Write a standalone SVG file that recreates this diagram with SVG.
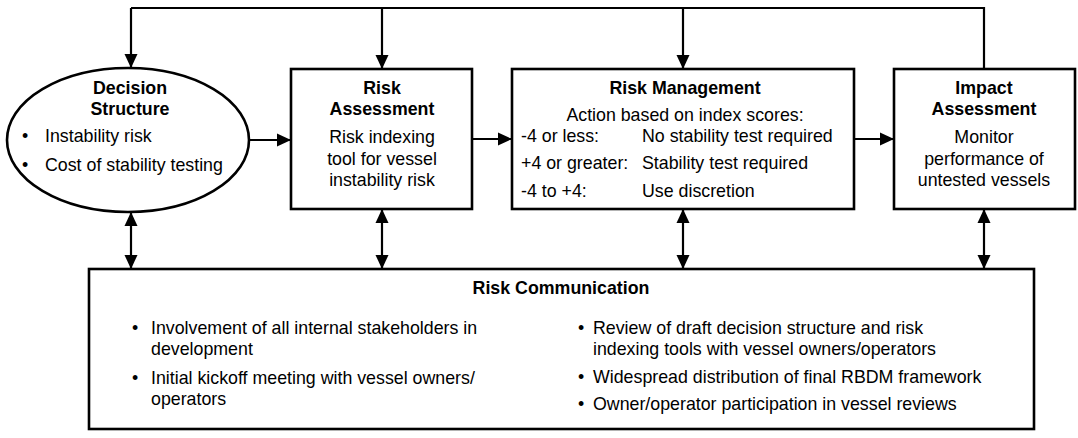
<svg xmlns="http://www.w3.org/2000/svg" width="1078" height="438" viewBox="0 0 1078 438">
<style>
text{font-family:"Liberation Sans",Arial,sans-serif;font-size:17.8px;fill:#000}
.b{font-weight:bold}
.c{text-anchor:middle}
.box{fill:#fff;stroke:#000;stroke-width:2.6}
.ln{fill:none;stroke:#000;stroke-width:2.2}
</style>
<defs>
<marker id="ah" viewBox="0 0 14 14" refX="14" refY="7" markerWidth="14" markerHeight="14" orient="auto-start-reverse" markerUnits="userSpaceOnUse"><path d="M0,0.5 L14,7 L0,13.5 z" fill="#000"/></marker>
</defs>
<rect width="1078" height="438" fill="#fff"/>
<g id="connectors">
<path class="ln" d="M131,8 H984 V69"/>
<path class="ln" d="M131,8 V68" marker-end="url(#ah)"/>
<path class="ln" d="M382,8 V69" marker-end="url(#ah)"/>
<path class="ln" d="M683,8 V69" marker-end="url(#ah)"/>
<path class="ln" d="M249,140 H291" marker-end="url(#ah)"/>
<path class="ln" d="M472,139 H512" marker-end="url(#ah)"/>
<path class="ln" d="M854,139 H894" marker-end="url(#ah)"/>
<path class="ln" d="M131,212 V269" marker-start="url(#ah)" marker-end="url(#ah)"/>
<path class="ln" d="M382,209 V269" marker-start="url(#ah)" marker-end="url(#ah)"/>
<path class="ln" d="M683,209 V269" marker-start="url(#ah)" marker-end="url(#ah)"/>
<path class="ln" d="M984,209 V269" marker-start="url(#ah)" marker-end="url(#ah)"/>
</g>
<g id="decision-structure">
<ellipse class="box" cx="128" cy="140" rx="121" ry="72"/>
<text class="b c" x="130" y="94">Decision</text>
<text class="b c" x="130" y="115">Structure</text>
<text x="22" y="142">•</text><text x="45" y="142">Instability risk</text>
<text x="22" y="171">•</text><text x="45" y="171">Cost of stability testing</text>
</g>
<g id="risk-assessment">
<rect class="box" x="291" y="69" width="181" height="140"/>
<text class="b c" x="382" y="94">Risk</text>
<text class="b c" x="382" y="115">Assessment</text>
<text class="c" x="382" y="143">Risk indexing</text>
<text class="c" x="382" y="165">tool for vessel</text>
<text class="c" x="382" y="186">instability risk</text>
</g>
<g id="risk-management">
<rect class="box" x="512" y="69" width="342" height="140"/>
<text class="b c" x="685" y="94">Risk Management</text>
<text class="c" x="685" y="121">Action based on index scores:</text>
<text x="521" y="142">-4 or less:</text><text x="642" y="142">No stability test required</text>
<text x="521" y="169">+4 or greater:</text><text x="642" y="169">Stability test required</text>
<text x="521" y="197">-4 to +4:</text><text x="642" y="197">Use discretion</text>
</g>
<g id="impact-assessment">
<rect class="box" x="894" y="69" width="181" height="140"/>
<text class="b c" x="984" y="94">Impact</text>
<text class="b c" x="984" y="115">Assessment</text>
<text class="c" x="984" y="143">Monitor</text>
<text class="c" x="984" y="165">performance of</text>
<text class="c" x="984" y="186">untested vessels</text>
</g>
<g id="risk-communication">
<rect class="box" x="89" y="269" width="945" height="160"/>
<text class="b c" x="561" y="294">Risk Communication</text>
<text x="132" y="334">•</text><text x="151" y="334">Involvement of all internal stakeholders in</text>
<text x="151" y="355">development</text>
<text x="132" y="384">•</text><text x="151" y="384">Initial kickoff meeting with vessel owners/</text>
<text x="151" y="405">operators</text>
<text x="578" y="334">•</text><text x="593" y="334">Review of draft decision structure and risk</text>
<text x="593" y="355">indexing tools with vessel owners/operators</text>
<text x="578" y="383">•</text><text x="593" y="383">Widespread distribution of final RBDM framework</text>
<text x="578" y="410">•</text><text x="593" y="410">Owner/operator participation in vessel reviews</text>
</g>
</svg>
